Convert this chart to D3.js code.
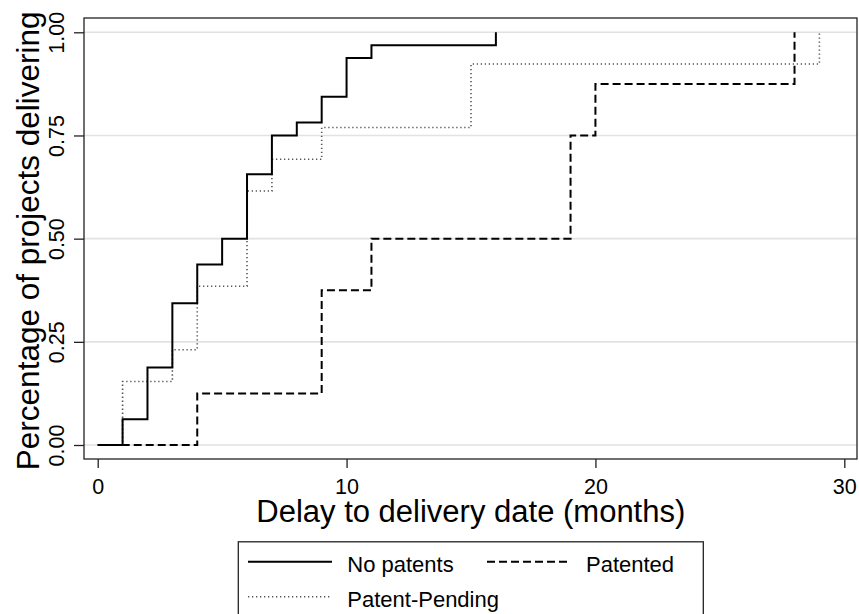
<!DOCTYPE html>
<html>
<head>
<meta charset="utf-8">
<script src="https://cdn.jsdelivr.net/npm/d3@7"></script>
<style>
  body { margin: 0; background: #fff; }
  svg { display: block; font-family: "Liberation Sans", Arial, sans-serif; }
  .axis path { display: none; }
  .axis line { stroke: #222; stroke-width: 1.3; }
  .axis text { font-size: 21.5px; fill: #000; }
</style>
</head>
<body>
<div class="chart"></div>
<script>
// step data: time (months) and share delivered
const noPatentTimes  = [0, 1, 2, 3, 4, 5, 6, 7, 8, 9, 10, 11, 16];
const noPatentValues = [0, 0.0625, 0.1875, 0.34375, 0.4375, 0.5, 0.65625, 0.75, 0.78125, 0.84375, 0.9375, 0.96875, 1];

const patentedTimes  = [0, 4, 9, 11, 19, 20, 28];
const patentedValues = [0, 0.125, 0.375, 0.5, 0.75, 0.875, 1];

const pendingTimes  = [0, 1, 3, 4, 6, 7, 9, 15, 29];
const pendingValues = [0, 0.1538, 0.2308, 0.3846, 0.6154, 0.6923, 0.7692, 0.9231, 1];

const xTicks = [0, 10, 20, 30];
const yTicks = [0, 0.25, 0.5, 0.75, 1];
const yTickLabels = ["0.00", "0.25", "0.50", "0.75", "1.00"];

const seriesNames = ["No patents", "Patented", "Patent-Pending"];

const W = 859, H = 614;
const frame = {left: 84, top: 18, right: 857, bottom: 459};

const svg = d3.select(".chart").append("svg")
    .attr("width", W)
    .attr("height", H);

let x = d3.scaleLinear().domain([0, 30]).range([97.7, 844.3]);
let y = d3.scaleLinear().domain([0, 1]).range([445, 32.3]);

// gridlines
svg.append("g").selectAll("line")
    .data(yTicks)
    .enter()
    .append("line")
    .attr("x1", frame.left)
    .attr("x2", frame.right)
    .attr("y1", d => y(d))
    .attr("y2", d => y(d))
    .attr("stroke", "#e2e2e2")
    .attr("stroke-width", 1.6);

const line = d3.line()
    .x(d => x(d[0]))
    .y(d => y(d[1]))
    .curve(d3.curveStepAfter);

const styles = {
  "No patents":     {dash: null,      color: "#000", width: 2},
  "Patented":       {dash: "8,4",     color: "#000", width: 2},
  "Patent-Pending": {dash: "1.3,2.7", color: "#555", width: 1.6}
};

const series = [
  {name: "Patented", pts: d3.zip(patentedTimes, patentedValues)},
  {name: "Patent-Pending", pts: d3.zip(pendingTimes, pendingValues)},
  {name: "No patents", pts: d3.zip(noPatentTimes, noPatentValues)}
];

svg.append("g").selectAll("path")
    .data(series)
    .enter()
    .append("path")
    .attr("d", d => line(d.pts))
    .attr("fill", "none")
    .attr("stroke", d => styles[d.name].color)
    .attr("stroke-width", d => styles[d.name].width)
    .attr("stroke-dasharray", d => styles[d.name].dash)
    .attr("stroke-linejoin", "miter");

// frame
svg.append("rect")
    .attr("x", frame.left)
    .attr("y", frame.top)
    .attr("width", frame.right - frame.left)
    .attr("height", frame.bottom - frame.top)
    .attr("fill", "none")
    .attr("stroke", "#222")
    .attr("stroke-width", 1.3);

// axes
let xAxis = d3.axisBottom(x).tickValues(xTicks).tickSize(9).tickPadding(0).tickFormat(d3.format("d"));
svg.append("g")
    .attr("class", "axis x-axis")
    .attr("transform", `translate(0, ${frame.bottom})`)
    .call(xAxis)
    .selectAll("text")
    .attr("y", 35)
    .attr("dy", 0);

let yAxis = d3.axisLeft(y).tickValues(yTicks).tickSize(10)
    .tickFormat((d, i) => yTickLabels[i]);
svg.append("g")
    .attr("class", "axis y-axis")
    .attr("transform", `translate(${frame.left}, 0)`)
    .call(yAxis)
    .selectAll("text")
    .attr("transform", "rotate(-90)")
    .attr("x", 0)
    .attr("y", -20.5)
    .attr("dy", 0)
    .attr("text-anchor", "middle");

// axis titles
svg.append("text")
    .attr("x", 470.8)
    .attr("y", 521.7)
    .attr("text-anchor", "middle")
    .attr("font-size", "31px")
    .text("Delay to delivery date (months)");

svg.append("text")
    .attr("transform", "translate(39, 240.8) rotate(-90)")
    .attr("text-anchor", "middle")
    .attr("font-size", "31.5px")
    .text("Percentage of projects delivering");

// legend
const legend = svg.append("g");
legend.append("rect")
    .attr("x", 238.3)
    .attr("y", 541.8)
    .attr("width", 465)
    .attr("height", 100)
    .attr("fill", "#fff")
    .attr("stroke", "#222")
    .attr("stroke-width", 1.3);

const legendPos = {
  "No patents":     {lx: 248, ly: 561.7, tx: 347.3, ty: 571.7},
  "Patented":       {lx: 487, ly: 561.7, tx: 586,   ty: 571.7},
  "Patent-Pending": {lx: 248, ly: 596.7, tx: 347.3, ty: 606.7}
};

seriesNames.forEach(function(n){
    let p = legendPos[n];
    legend.append("line")
        .attr("x1", p.lx)
        .attr("x2", p.lx + 84)
        .attr("y1", p.ly)
        .attr("y2", p.ly)
        .attr("stroke", styles[n].color)
        .attr("stroke-width", styles[n].width)
        .attr("stroke-dasharray", styles[n].dash);
    legend.append("text")
        .attr("x", p.tx)
        .attr("y", p.ty)
        .attr("font-size", "22px")
        .text(n);
});
</script>
</body>
</html>
